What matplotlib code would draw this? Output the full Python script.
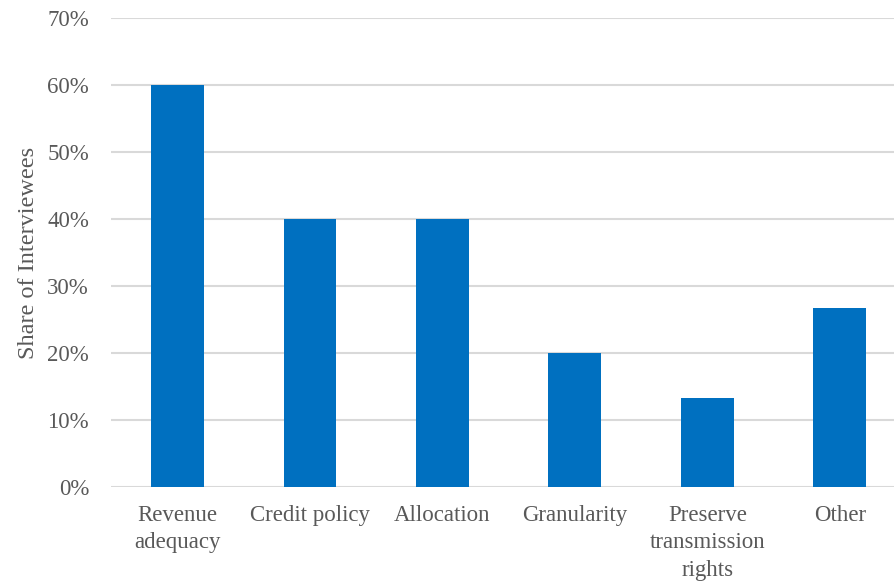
import numpy as np
import matplotlib.pyplot as plt
from matplotlib.ticker import PercentFormatter

categories = ["Revenue\nadequacy", "Credit policy", "Allocation", "Granularity",
              "Preserve\ntransmission\nrights", "Other"]
shares = [60.0, 40.0, 40.0, 20.0, 13.3, 26.7]

plt.rcParams['font.family'] = ['Liberation Serif', 'DejaVu Serif']
text_col = '#595959'

fig = plt.figure(figsize=(8.94, 5.88), dpi=100)
ax = fig.add_axes([0.1245, 0.172, 0.889, 0.797])

x = np.arange(len(categories))
ax.bar(x, shares, width=0.40, color='#0070C0', zorder=3)

ax.set_ylim(0, 70)
ax.set_xlim(-0.5, len(categories) - 0.5)
ax.set_yticks(np.arange(0, 71, 10))
ax.yaxis.set_major_formatter(PercentFormatter(decimals=0))
ax.grid(axis='y', color='#d9d9d9', linewidth=1.5, zorder=0)
ax.set_xticks(x)
ax.set_xticklabels(categories, linespacing=1.4)

for s in ax.spines.values():
    s.set_visible(False)
ax.tick_params(axis='both', length=0, labelsize=16.5, colors=text_col)
ax.tick_params(axis='x', pad=13)
ax.tick_params(axis='y', pad=16)
ax.set_ylabel("Share of Interviewees", fontsize=17.5, color=text_col, labelpad=6)

fig.savefig("out.png", dpi=100)
